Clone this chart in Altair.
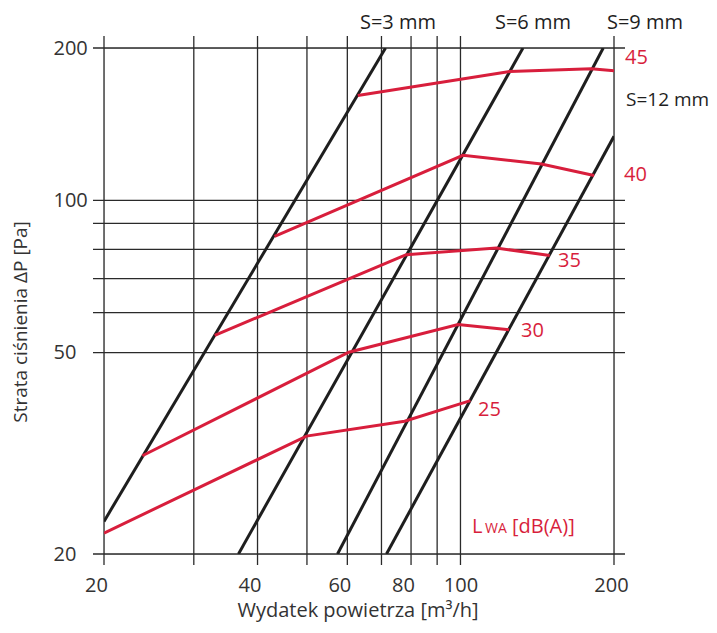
import altair as alt
import pandas as pd

# ---- data ----
grid_x = [20, 30, 40, 50, 60, 70, 80, 90, 100, 200]
grid_y = [20, 50, 60, 70, 80, 90, 100, 200]
x_ticks = [20, 40, 60, 80, 100, 200]
y_ticks = [20, 50, 100, 200]

# slot width lines (straight in log-log), endpoints
s3_x = [20, 71.3];   s3_y = [23.2, 200]
s6_x = [36.7, 132.6]; s6_y = [20, 200]
s9_x = [57.4, 190.5]; s9_y = [20, 200]
s12_x = [71.6, 200];  s12_y = [20, 133.8]

# sound power curves LwA
l45_x = [62.9, 124.9, 180.6, 200];  l45_y = [161.2, 179.8, 182.0, 180.3]
l40_x = [43.2, 101.1, 144.1, 182.8]; l40_y = [84.9, 122.7, 118.0, 112.0]
l35_x = [32.97, 78.3, 117.6, 149.6]; l35_y = [54.1, 78.1, 80.5, 77.8]
l30_x = [23.78, 60.4, 98.9, 124.5];  l30_y = [31.28, 50.1, 56.8, 55.5]
l25_x = [20, 49.9, 77.7, 104.6];     l25_y = [22.0, 34.2, 36.6, 40.2]

s_names = ["S=3 mm", "S=6 mm", "S=9 mm", "S=12 mm"]
l_names = ["45", "40", "35", "30", "25"]

BLACK = "#1e1e1e"
RED = "#d81e3c"
GREY = "#333333"
FONT = "Open Sans"
W, H = 510, 506

def build(names, xs, ys):
    rows = []
    for n, xx, yy in zip(names, xs, ys):
        for i, (a, b) in enumerate(zip(xx, yy)):
            rows.append({"name": n, "i": i, "x": a, "y": b})
    return pd.DataFrame(rows)

s_df = build(s_names, [s3_x, s6_x, s9_x, s12_x], [s3_y, s6_y, s9_y, s12_y])
l_df = build(l_names, [l45_x, l40_x, l35_x, l30_x, l25_x],
             [l45_y, l40_y, l35_y, l30_y, l25_y])

xscale = alt.Scale(type="log", domain=[20, 200], nice=False)
yscale = alt.Scale(type="log", domain=[20, 200], nice=False)

xaxis = alt.Axis(values=x_ticks, format="d", grid=False, ticks=False, domain=False,
                 title=None, labelFontSize=20, labelFont=FONT, labelColor=GREY,
                 labelPadding=21, labelFlush=False,
                 labelOffset={"condition": [{"test": "datum.value < 90", "value": -8},
                                            {"test": "datum.value > 150", "value": -3}],
                              "value": 0})
yaxis = alt.Axis(values=y_ticks, format="d", grid=False, ticks=False, domain=False,
                 title=None, labelFontSize=20, labelFont=FONT, labelColor=GREY,
                 labelPadding=51, labelAlign="left")

vgrid = alt.Chart(pd.DataFrame({"gx": grid_x})).mark_rule(
    color="#2a2a2a", strokeWidth=1.3).encode(
    x=alt.X("gx:Q", scale=xscale, axis=xaxis),
    y=alt.value(-12), y2=alt.value(H + 11))

hgrid = alt.Chart(pd.DataFrame({"gy": grid_y})).mark_rule(
    color="#2a2a2a", strokeWidth=1.3).encode(
    y=alt.Y("gy:Q", scale=yscale, axis=yaxis),
    x=alt.value(-11), x2=alt.value(W + 11))

s_lines = alt.Chart(s_df).mark_line(color=BLACK, strokeWidth=3, clip=True).encode(
    x=alt.X("x:Q", scale=xscale), y=alt.Y("y:Q", scale=yscale),
    detail="name:N", order="i:Q")

l_lines = alt.Chart(l_df).mark_line(color=RED, strokeWidth=3, clip=True).encode(
    x=alt.X("x:Q", scale=xscale), y=alt.Y("y:Q", scale=yscale),
    detail="name:N", order="i:Q")

def txt(s, px, py, color=BLACK, size=20, align="left", angle=0, baseline="middle"):
    return alt.Chart(pd.DataFrame({"t": [s]})).mark_text(
        font=FONT, fontSize=size, color=color, align=align, baseline=baseline,
        angle=angle).encode(x=alt.value(px), y=alt.value(py), text="t:N")

labels = [
    txt("S=3 mm", 294, -25, align="center"),
    txt("S=6 mm", 429, -25, align="center"),
    txt("S=9 mm", 541, -25, align="center"),
    txt("S=12 mm", 522, 52, size=19),
    txt("45", 521, 10, color=RED),
    txt("40", 520, 127, color=RED),
    txt("35", 454, 213, color=RED),
    txt("30", 417, 283, color=RED),
    txt("25", 374, 362, color=RED),
    txt("L", 368, 485, color=RED, baseline="alphabetic"),
    txt("WA", 381, 485, color=RED, size=14, baseline="alphabetic"),
    txt("[dB(A)]", 408, 485, color=RED, baseline="alphabetic"),
    txt("Wydatek powietrza [m³/h]", 254, 563, color=GREY, align="center"),
    txt("Strata ciśnienia ΔP [Pa]", -83, 274, color=GREY, size=19, align="center", angle=270),
]

chart = alt.layer(vgrid, hgrid, s_lines, l_lines, *labels).properties(
    width=W, height=H,
    autosize=alt.AutoSizeParams(type="none"),
    padding={"left": 96, "top": 40, "right": 95, "bottom": 71},
).configure_view(stroke=None).configure(background="white")

chart.save("out.html", embed_options={"renderer": "svg", "actions": False})
